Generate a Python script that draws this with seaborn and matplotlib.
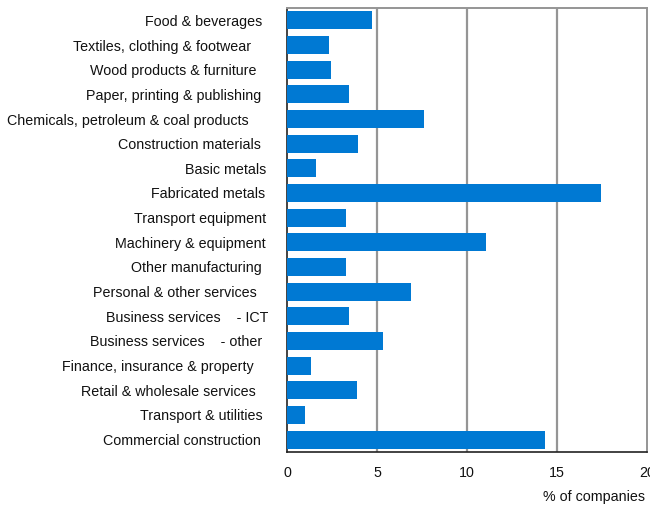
import matplotlib
matplotlib.use("Agg")
import matplotlib.pyplot as plt
import matplotlib.transforms as mtransforms
import seaborn as sns
import pandas as pd
import numpy as np

categories = [
    "Food & beverages",
    "Textiles, clothing & footwear",
    "Wood products & furniture",
    "Paper, printing & publishing",
    "Chemicals, petroleum & coal products",
    "Construction materials",
    "Basic metals",
    "Fabricated metals",
    "Transport equipment",
    "Machinery & equipment",
    "Other manufacturing",
    "Personal & other services",
    "Business services    - ICT",
    "Business services    - other",
    "Finance, insurance & property",
    "Retail & wholesale services",
    "Transport & utilities",
    "Commercial construction",
]
share = [4.72, 2.33, 2.44, 3.44, 7.61, 3.94, 1.61, 17.44, 3.28,
         11.06, 3.28, 6.89, 3.44, 5.33, 1.33, 3.89, 1.0, 14.33]
x_ticks = [0, 5, 10, 15, 20]

# per-label horizontal nudges (pixels, negative = further left)
label_nudge = [-6, -17, -11, -7, -19, -7, -2, -3, -2, -2,
               -6, -11, 0, -6, -14, -12, -5, -7]

df = pd.DataFrame({"category": categories, "share": share})

sns.set_theme(style="white")
plt.rcParams["font.family"] = ["Liberation Sans", "DejaVu Sans"]

fig = plt.figure(figsize=(6.5, 5.05), dpi=100)
ax = fig.add_axes([287 / 650, 1 - 452 / 505, 360 / 650, 444 / 505])

sns.barplot(data=df, y="category", x="share", orient="h", color="#0079D3",
            saturation=1, width=0.72, ax=ax, zorder=3,
            edgecolor="none", linewidth=0)

ax.set_xlim(0, 20)
ax.set_xticks(x_ticks)
ax.set_xticklabels([str(t) for t in x_ticks], fontsize=10.3, color="#111111")
ax.set_ylim(len(categories) - 0.5, -0.5)

ax.vlines(x_ticks[1:-1], -0.5, len(categories) - 0.5, colors="#959595",
          linewidth=1.6, zorder=1)

ax.set_ylabel("")
ax.set_xlabel("% of companies", fontsize=10.3, color="#111111")
ax.xaxis.set_label_coords(0.995, -0.1015)
ax.xaxis.label.set_horizontalalignment("right")
ax.xaxis.label.set_verticalalignment("center")

ax.tick_params(axis="x", length=0, pad=10)
ax.tick_params(axis="y", which="major", length=0, pad=13.7, labelsize=10.3,
               labelcolor="#111111")
ax.set_yticks(np.arange(len(categories) + 1) - 0.5, minor=True)
ax.tick_params(axis="y", which="minor", direction="in", length=4,
               width=1, color="#222222")

for lbl, dx in zip(ax.get_yticklabels(), label_nudge):
    lbl.set_transform(lbl.get_transform() +
                      mtransforms.ScaledTranslation(dx / 100, 0, fig.dpi_scale_trans))

for side in ["top", "right"]:
    ax.spines[side].set_color("#959595")
    ax.spines[side].set_linewidth(1.4)
for side in ["left", "bottom"]:
    ax.spines[side].set_color("#222222")
    ax.spines[side].set_linewidth(1.2)

fig.savefig("out.png", dpi=100)
